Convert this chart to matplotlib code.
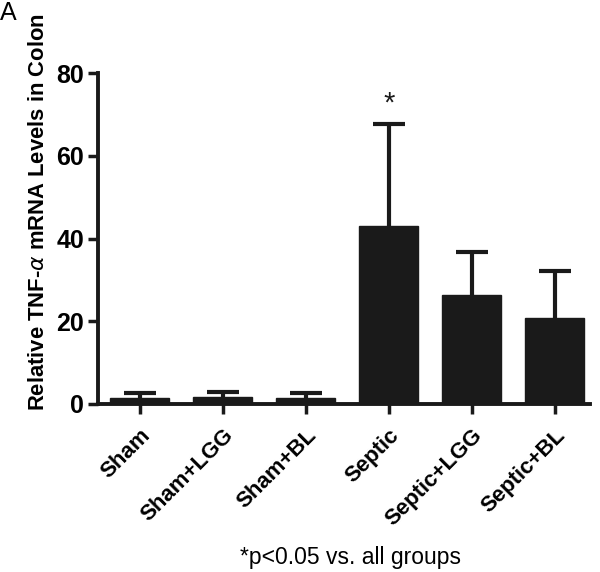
import matplotlib
matplotlib.use("Agg")
import matplotlib.pyplot as plt

categories = ["Sham", "Sham+LGG", "Sham+BL", "Septic", "Septic+LGG", "Septic+BL"]
means = [1.5, 1.6, 1.5, 43.0, 26.3, 20.7]
err_top = [2.6, 2.8, 2.6, 67.7, 36.7, 32.2]
errors = [t - m for t, m in zip(err_top, means)]
yticks = [0, 20, 40, 60, 80]

plt.rcParams['font.family'] = ['Liberation Sans', 'DejaVu Sans']

fig = plt.figure(figsize=(6, 5.72), dpi=100)
ax = fig.add_axes([0.163, 0.294, 0.82, 0.578])

x = list(range(len(categories)))
ax.bar(x, means, width=0.71, color='#1a1a1a', edgecolor='#1a1a1a', zorder=2)
_, caps, _ = ax.errorbar(x, means, yerr=[[0]*len(errors), errors], fmt='none',
                         ecolor='#1a1a1a', elinewidth=3, capsize=11.5, capthick=3,
                         zorder=1)
caps[0].set_visible(False)

ax.text(3, err_top[3] + 5.0, "*", ha='center', va='center', fontsize=21, color='#1a1a1a')

ax.set_xlim(-0.506, 5.42)
ax.set_ylim(0, 80)
ax.set_yticks(yticks)
ax.set_yticklabels([str(v) for v in yticks], fontsize=18, fontweight='bold')
ax.set_xticks(x)
ax.set_xticklabels(categories, rotation=45, ha='right', rotation_mode='anchor',
                   fontsize=16, fontweight='bold')
for s in ['top', 'right']:
    ax.spines[s].set_visible(False)
for s in ['left', 'bottom']:
    ax.spines[s].set_linewidth(2.8)
    ax.spines[s].set_color('#1a1a1a')
ax.tick_params(axis='both', width=2.5, length=7, color='#1a1a1a', direction='out')
ax.tick_params(axis='x', pad=8)
ax.tick_params(axis='y', pad=3)

fig.text(0.065, 0.63, "Relative TNF-$\\alpha$ mRNA Levels in Colon", rotation=90,
         ha='center', va='center', fontsize=15.8, fontweight='bold')
fig.text(0.585, 0.026, "*p<0.05 vs. all groups", ha='center', va='center', fontsize=16.5)
fig.text(0.0, 0.998, "A", ha='left', va='top', fontsize=18)

fig.savefig("out.png", dpi=100)
